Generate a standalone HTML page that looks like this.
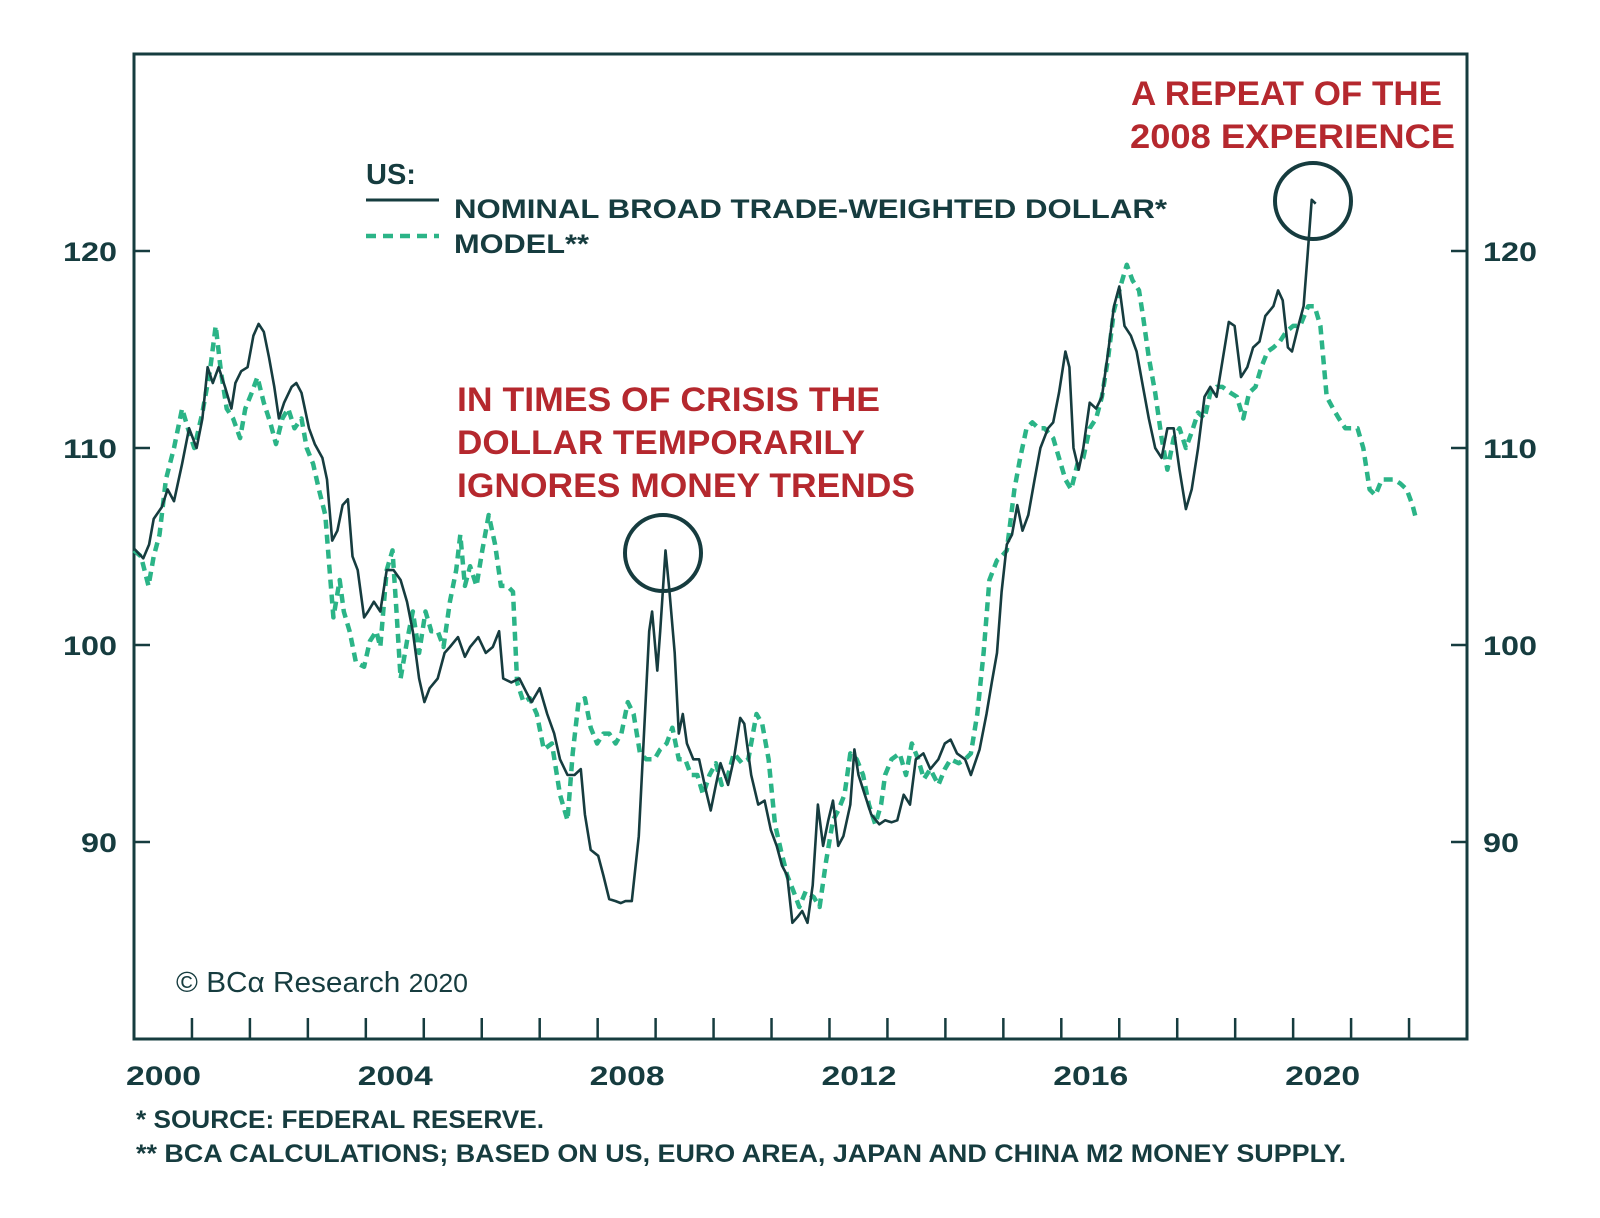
<!DOCTYPE html>
<html><head><meta charset="utf-8"><style>
html,body{margin:0;padding:0;background:#fff;}
svg{display:block;}
text{font-family:"Liberation Sans",sans-serif;}
</style></head><body>
<svg id="chart" width="1600" height="1218" xmlns="http://www.w3.org/2000/svg">
<rect width="1600" height="1218" fill="#fff"/>
<g id="axes"></g>
<g id="series"></g>
<g>
<text x="366" y="184" font-size="29" font-weight="bold" fill="#163c3f">US:</text>
<line x1="366" y1="200" x2="439" y2="200" stroke="#163c3f" stroke-width="3"/>
<text x="454" y="218" font-size="27" font-weight="bold" fill="#163c3f" textLength="713" lengthAdjust="spacingAndGlyphs">NOMINAL BROAD TRADE-WEIGHTED DOLLAR*</text>
<line x1="366" y1="236" x2="439" y2="236" stroke="#2bb487" stroke-width="4.5" stroke-dasharray="10 7"/>
<text x="454" y="253" font-size="27" font-weight="bold" fill="#163c3f" textLength="135" lengthAdjust="spacingAndGlyphs">MODEL**</text>
</g>
<g fill="#b5282e" font-size="34" font-weight="bold">
<text x="457" y="411" textLength="423" lengthAdjust="spacingAndGlyphs">IN TIMES OF CRISIS THE</text>
<text x="457" y="454" textLength="408" lengthAdjust="spacingAndGlyphs">DOLLAR TEMPORARILY</text>
<text x="457" y="497" textLength="458" lengthAdjust="spacingAndGlyphs">IGNORES MONEY TRENDS</text>
</g>
<g fill="#b5282e" font-size="34" font-weight="bold">
<text x="1131" y="105" textLength="311" lengthAdjust="spacingAndGlyphs">A REPEAT OF THE</text>
<text x="1130" y="148" textLength="325" lengthAdjust="spacingAndGlyphs">2008 EXPERIENCE</text>
</g>
<circle cx="663" cy="553" r="38" fill="none" stroke="#163c3f" stroke-width="4"/>
<circle cx="1313" cy="201" r="38" fill="none" stroke="#163c3f" stroke-width="4"/>
<text x="176" y="992" font-family="Liberation Serif,serif" font-size="29" fill="#163c3f" textLength="292" lengthAdjust="spacingAndGlyphs">© BCα Research <tspan font-family="Liberation Sans,sans-serif" font-size="26">2020</tspan></text>
<text x="136" y="1128" font-size="25" fill="#163c3f" font-weight="bold" textLength="408" lengthAdjust="spacingAndGlyphs">*  SOURCE: FEDERAL RESERVE.</text>
<text x="136" y="1162" font-size="25" fill="#163c3f" font-weight="bold" textLength="1210" lengthAdjust="spacingAndGlyphs">** BCA CALCULATIONS; BASED ON US, EURO AREA, JAPAN AND CHINA M2 MONEY SUPPLY.</text>
</svg>
<script>
const yTicks=[90,100,110,120];
const xLabels=[2000,2004,2008,2012,2016,2020];
const dollarT=[2000.00,2000.16,2000.26,2000.34,2000.48,2000.58,2000.69,2000.83,2000.95,2001.08,2001.18,2001.27,2001.36,2001.46,2001.57,2001.68,2001.75,2001.85,2001.96,2002.06,2002.15,2002.24,2002.33,2002.42,2002.50,2002.59,2002.72,2002.80,2002.89,2003.02,2003.12,2003.25,2003.33,2003.42,2003.51,2003.60,2003.69,2003.77,2003.86,2003.97,2004.04,2004.14,2004.25,2004.36,2004.48,2004.60,2004.71,2004.81,2004.92,2005.01,2005.10,2005.24,2005.36,2005.45,2005.59,2005.71,2005.80,2005.94,2006.07,2006.19,2006.30,2006.37,2006.51,2006.65,2006.77,2006.86,2007.00,2007.13,2007.25,2007.35,2007.48,2007.60,2007.71,2007.78,2007.88,2008.01,2008.10,2008.20,2008.31,2008.40,2008.48,2008.59,2008.71,2008.80,2008.89,2008.94,2009.03,2009.08,2009.17,2009.24,2009.33,2009.40,2009.47,2009.54,2009.65,2009.75,2009.86,2009.95,2010.04,2010.12,2010.25,2010.35,2010.46,2010.53,2010.65,2010.77,2010.88,2010.99,2011.09,2011.18,2011.27,2011.36,2011.45,2011.53,2011.62,2011.71,2011.80,2011.89,2011.98,2012.06,2012.15,2012.24,2012.36,2012.43,2012.50,2012.61,2012.72,2012.86,2012.96,2013.07,2013.17,2013.28,2013.39,2013.49,2013.62,2013.74,2013.88,2013.99,2014.09,2014.20,2014.34,2014.44,2014.59,2014.71,2014.80,2014.89,2014.97,2015.06,2015.15,2015.24,2015.33,2015.43,2015.54,2015.64,2015.77,2015.86,2015.96,2016.07,2016.14,2016.21,2016.30,2016.38,2016.49,2016.60,2016.70,2016.81,2016.91,2017.00,2017.09,2017.20,2017.30,2017.41,2017.51,2017.62,2017.73,2017.83,2017.94,2018.04,2018.15,2018.25,2018.36,2018.47,2018.57,2018.68,2018.78,2018.89,2018.99,2019.10,2019.21,2019.31,2019.42,2019.52,2019.66,2019.74,2019.82,2019.91,2019.98,2020.09,2020.18,2020.25,2020.32,2020.39];
const dollarV=[104.9,104.4,105.1,106.4,107.0,107.9,107.3,109.2,111.0,110.0,111.5,114.1,113.3,114.1,113.1,112.0,113.3,113.9,114.1,115.7,116.3,115.9,114.6,113.1,111.5,112.3,113.1,113.3,112.8,111.0,110.2,109.5,108.4,105.3,105.8,107.1,107.4,104.5,103.8,101.4,101.7,102.2,101.7,103.8,103.8,103.3,102.2,100.7,98.3,97.1,97.8,98.3,99.6,99.9,100.4,99.4,99.9,100.4,99.6,99.9,100.7,98.3,98.1,98.3,97.6,97.1,97.8,96.5,95.5,94.2,93.4,93.4,93.7,91.4,89.6,89.3,88.3,87.1,87.0,86.9,87.0,87.0,90.3,95.5,100.7,101.7,98.7,100.7,104.8,102.7,99.6,95.5,96.5,95.0,94.2,94.2,92.7,91.6,92.9,94.0,92.9,94.2,96.3,96.0,93.4,91.9,92.1,90.6,89.8,88.8,88.3,85.9,86.2,86.5,85.9,87.8,91.9,89.8,91.1,92.1,89.8,90.3,91.9,94.7,93.4,92.4,91.4,90.9,91.1,91.0,91.1,92.4,91.9,94.2,94.5,93.7,94.2,95.0,95.2,94.5,94.2,93.4,94.7,96.5,98.1,99.6,102.7,105.1,105.6,107.1,105.8,106.6,108.4,110.0,111.0,111.3,112.8,114.9,114.1,110.0,108.9,110.0,112.3,112.0,112.6,114.9,117.2,118.2,116.2,115.7,114.9,113.1,111.5,110.0,109.5,111.0,111.0,108.9,106.9,107.9,110.0,112.6,113.1,112.6,114.4,116.4,116.2,113.6,114.1,115.1,115.4,116.7,117.2,118.0,117.5,115.1,114.9,116.2,117.2,119.8,122.6,122.4];
const modelT=[2000.00,2000.12,2000.25,2000.34,2000.44,2000.55,2000.69,2000.83,2000.93,2001.04,2001.18,2001.31,2001.41,2001.50,2001.60,2001.71,2001.83,2001.92,2002.03,2002.13,2002.24,2002.35,2002.45,2002.56,2002.66,2002.77,2002.89,2002.98,2003.09,2003.19,2003.30,2003.37,2003.44,2003.55,2003.62,2003.72,2003.83,2003.97,2004.07,2004.18,2004.25,2004.36,2004.46,2004.53,2004.60,2004.71,2004.81,2004.92,2005.03,2005.13,2005.24,2005.34,2005.45,2005.56,2005.63,2005.71,2005.80,2005.91,2006.01,2006.12,2006.23,2006.33,2006.44,2006.54,2006.61,2006.72,2006.83,2006.95,2007.07,2007.21,2007.35,2007.48,2007.57,2007.67,2007.78,2007.88,2007.99,2008.10,2008.20,2008.31,2008.41,2008.52,2008.62,2008.73,2008.84,2008.98,2009.08,2009.19,2009.29,2009.40,2009.51,2009.61,2009.72,2009.82,2009.93,2010.04,2010.14,2010.25,2010.35,2010.49,2010.60,2010.74,2010.84,2010.95,2011.06,2011.16,2011.27,2011.38,2011.48,2011.59,2011.73,2011.83,2011.94,2012.06,2012.15,2012.26,2012.36,2012.47,2012.58,2012.68,2012.79,2012.89,2012.96,2013.07,2013.21,2013.32,2013.42,2013.53,2013.63,2013.74,2013.88,2013.99,2014.09,2014.23,2014.34,2014.44,2014.55,2014.66,2014.76,2014.89,2014.97,2015.06,2015.19,2015.29,2015.40,2015.50,2015.61,2015.71,2015.86,2015.96,2016.07,2016.17,2016.28,2016.38,2016.49,2016.60,2016.70,2016.81,2016.91,2017.02,2017.13,2017.23,2017.34,2017.41,2017.51,2017.62,2017.73,2017.83,2017.94,2018.04,2018.15,2018.25,2018.36,2018.47,2018.57,2018.68,2018.78,2018.92,2019.03,2019.14,2019.24,2019.35,2019.45,2019.56,2019.66,2019.77,2019.88,2020.00,2020.12,2020.26,2020.37,2020.47,2020.58,2020.69,2020.79,2020.90,2021.00,2021.11,2021.21,2021.32,2021.42,2021.53,2021.64,2021.74,2021.85,2021.96,2022.06,2022.13];
const modelV=[104.8,104.5,103.0,104.5,105.6,108.4,110.0,112.0,111.0,110.0,111.8,113.9,116.2,113.9,112.0,111.5,110.5,112.0,112.8,113.6,112.3,111.3,110.2,111.5,112.0,111.0,111.5,110.0,109.2,107.9,106.6,104.0,101.4,103.3,101.7,100.7,99.1,98.9,100.2,100.7,99.9,103.8,104.8,101.7,98.3,100.2,101.7,99.6,101.7,100.7,100.7,99.9,102.2,103.8,105.6,103.0,104.0,103.0,104.8,106.6,105.1,103.0,103.0,102.7,98.1,97.1,97.3,96.5,94.7,95.0,92.4,91.1,94.5,97.1,97.3,95.8,95.0,95.5,95.5,95.0,95.5,97.1,96.5,94.5,94.2,94.2,94.7,95.0,95.8,94.2,94.2,93.4,93.4,92.4,93.4,94.0,92.9,93.4,94.5,94.0,94.2,96.5,96.0,94.2,90.9,89.6,88.3,87.5,86.7,87.5,87.2,86.7,89.0,91.1,91.6,92.4,94.5,94.2,93.4,91.9,90.9,91.9,93.4,94.2,94.5,93.4,95.0,94.2,93.2,93.7,92.9,93.7,94.2,94.0,94.2,94.5,96.5,99.6,103.3,104.3,104.5,104.8,107.9,109.5,111.0,111.3,111.0,111.0,110.5,109.5,108.4,107.9,109.2,109.5,111.0,111.5,112.6,114.6,117.0,118.2,119.3,118.5,118.0,116.7,114.6,112.8,110.5,108.9,110.5,111.0,110.0,110.8,111.8,111.5,112.8,113.1,113.1,112.8,112.6,111.5,112.8,113.1,114.1,114.9,115.1,115.4,115.9,116.2,116.2,117.2,117.2,116.2,112.6,112.0,111.5,111.0,111.0,111.0,110.0,107.9,107.6,108.4,108.4,108.4,108.2,107.9,107.1,106.3];

const NS='http://www.w3.org/2000/svg';
const L=134,R=1467,T=54,B=1039,X0=2000,X1=2023,Y0=80,Y1=130;
const DARK='#163c3f';
function xs(t){return L+(t-X0)/(X1-X0)*(R-L);}
function ys(v){return B-(v-Y0)/(Y1-Y0)*(B-T);}
function mk(tag,attrs,parent){const e=document.createElementNS(NS,tag);for(const k in attrs)e.setAttribute(k,attrs[k]);parent.appendChild(e);return e;}
const axes=document.getElementById('axes');
const series=document.getElementById('series');

const frame=mk('rect',{x:L,y:T,width:R-L,height:B-T,fill:'none',stroke:DARK,'stroke-width':3},axes);



yTicks.forEach(v=>{
  const y=ys(v);
  const tl=mk('line',{x1:L,x2:L+16,y1:y,y2:y,stroke:DARK,'stroke-width':2.5},axes);
  
  
  const tr=mk('line',{x1:R-16,x2:R,y1:y,y2:y,stroke:DARK,'stroke-width':2.5},axes);
  
  
  const w=String(v).length*18;
  const a=mk('text',{x:L-17-w,y:y+10,'text-anchor':'start','font-size':27,'font-weight':'bold',fill:DARK,textLength:w,lengthAdjust:'spacingAndGlyphs'},axes);
  a.textContent=v;
  
  
  const b=mk('text',{x:R+16,y:y+10,'text-anchor':'start','font-size':27,'font-weight':'bold',fill:DARK,textLength:w,lengthAdjust:'spacingAndGlyphs'},axes);
  b.textContent=v;
  
  
});
for(let yr=X0+1;yr<X1;yr++){
  const x=xs(yr);
  const t=mk('line',{x1:x,x2:x,y1:B-21,y2:B,stroke:DARK,'stroke-width':2.5},axes);
  
  
}
xLabels.forEach(yr=>{
  const t=mk('text',{x:xs(yr+0.5)-37,y:B+46,'text-anchor':'start','font-size':27,'font-weight':'bold',fill:DARK,textLength:75,lengthAdjust:'spacingAndGlyphs'},axes);
  t.textContent=yr;
  
  
});
function pathOf(T_,V_){return T_.map((t,i)=>(i?'L':'M')+xs(t).toFixed(1)+' '+ys(V_[i]).toFixed(1)).join(' ');}
const m=mk('path',{d:pathOf(modelT,modelV),fill:'none',stroke:'#2bb487','stroke-width':4.5,'stroke-dasharray':'9 6','stroke-linejoin':'round'},series);


const d=mk('path',{d:pathOf(dollarT,dollarV),fill:'none',stroke:DARK,'stroke-width':2.6,'stroke-linejoin':'round'},series);


</script>
</body></html>
